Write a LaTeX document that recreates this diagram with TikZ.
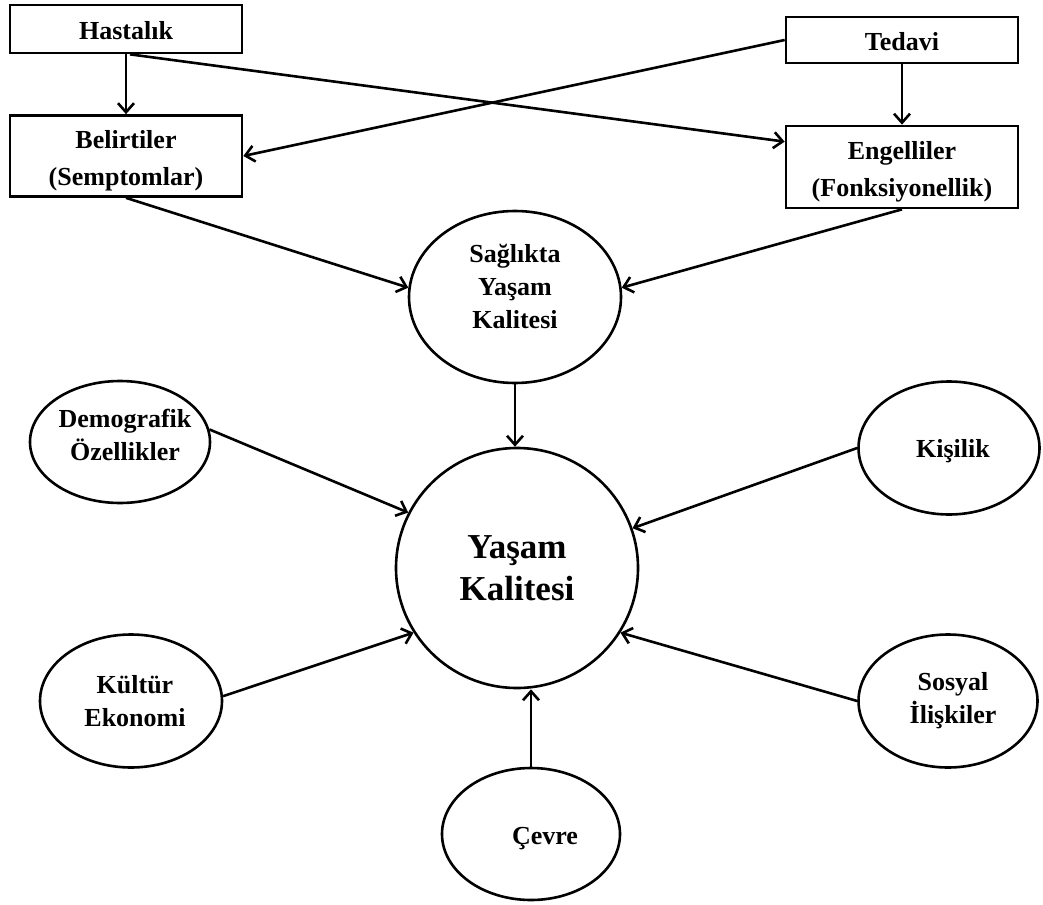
\documentclass[tikz,border=0pt]{standalone}
\usepackage{fontspec}
\setmainfont{Liberation Serif}
\usetikzlibrary{shapes.geometric,arrows.meta}
\begin{document}
\begin{tikzpicture}[x=1pt,y=-1pt,
  box/.style={draw,line width=2.7pt,rectangle,minimum width=232pt,inner sep=0pt},
  btxt/.style={align=center,font=\fontsize{26}{37}\selectfont\bfseries,inner sep=0pt},
  ell/.style={draw,line width=2.6pt,ellipse,inner sep=0pt},
  lab/.style={align=center,font=\fontsize{26}{33}\selectfont\bfseries,inner sep=0pt},
  arr/.style={line width=2.6pt,-{Straight Barb[length=9pt,width=16pt,line width=2.6pt]}}
]
\useasboundingbox (0,0) rectangle (1043,904);

\node[box,minimum height=48pt,label={[btxt,yshift=-2pt]center:Hastalık}] (hast) at (126,29) {};
\node[box,minimum height=46pt,label={[btxt,yshift=-2pt]center:Tedavi}] (ted) at (902,40) {};
\node[box,minimum height=81pt,label={[btxt,yshift=-5pt]center:{Belirtiler\\(Semptomlar)}}] (bel) at (126,156) {};
\node[box,minimum height=82pt,label={[btxt,yshift=-5pt]center:{Engelliler\\(Fonksiyonellik)}}] (eng) at (902,167) {};

\node[ell,minimum width=212pt,minimum height=172pt,label={[lab,yshift=11pt]center:{Sağlıkta\\Yaşam\\Kalitesi}}] (sag) at (515,297) {};
\node[ell,minimum width=242pt,minimum height=240pt,font=\fontsize{35}{42}\selectfont\bfseries,align=center] (yk) at (517,568) {Yaşam\\Kalitesi};

\node[ell,minimum width=180pt,minimum height=122pt,label={[lab,xshift=5pt,yshift=7pt]center:{Demografik\\Özellikler}}] (demo) at (120,442) {};
\node[ell,minimum width=181pt,minimum height=133pt,label={[lab,xshift=4pt,yshift=-3pt]center:Kişilik}] (kis) at (949,448) {};
\node[ell,minimum width=182pt,minimum height=133pt,label={[lab,xshift=4pt]center:{Kültür\\Ekonomi}}] (kult) at (131,701) {};
\node[ell,minimum width=179pt,minimum height=133pt,label={[lab,xshift=5pt]center:{Sosyal\\İlişkiler}}] (sos) at (948,701) {};
\node[ell,minimum width=178pt,minimum height=132pt,label={[lab,xshift=14pt,yshift=-5pt]center:Çevre}] (cev) at (531,834) {};

\draw[arr] (hast.south) -- (bel.north);
\draw[arr] (ted.south) -- (eng.north);
\draw[arr] ([xshift=4pt]hast.south) -- ([yshift=-17pt]eng.north west);
\draw[arr] (ted.west) -- (bel.east);
\draw[arr] (bel.south) -- (sag.175);
\draw[arr] (eng.south) -- (sag.5);
\draw[arr] (sag.south) -- (sag.south |- yk.north);
\draw[arr] (demo.8) -- (yk.153);
\draw[arr] (kis.west) -- (yk.19);
\draw[arr] (kult.3) -- (yk.212);
\draw[arr] (sos.west) -- (yk.328);
\draw[arr] (cev.north) -- (cev.north |- yk.south);
\end{tikzpicture}
\end{document}
